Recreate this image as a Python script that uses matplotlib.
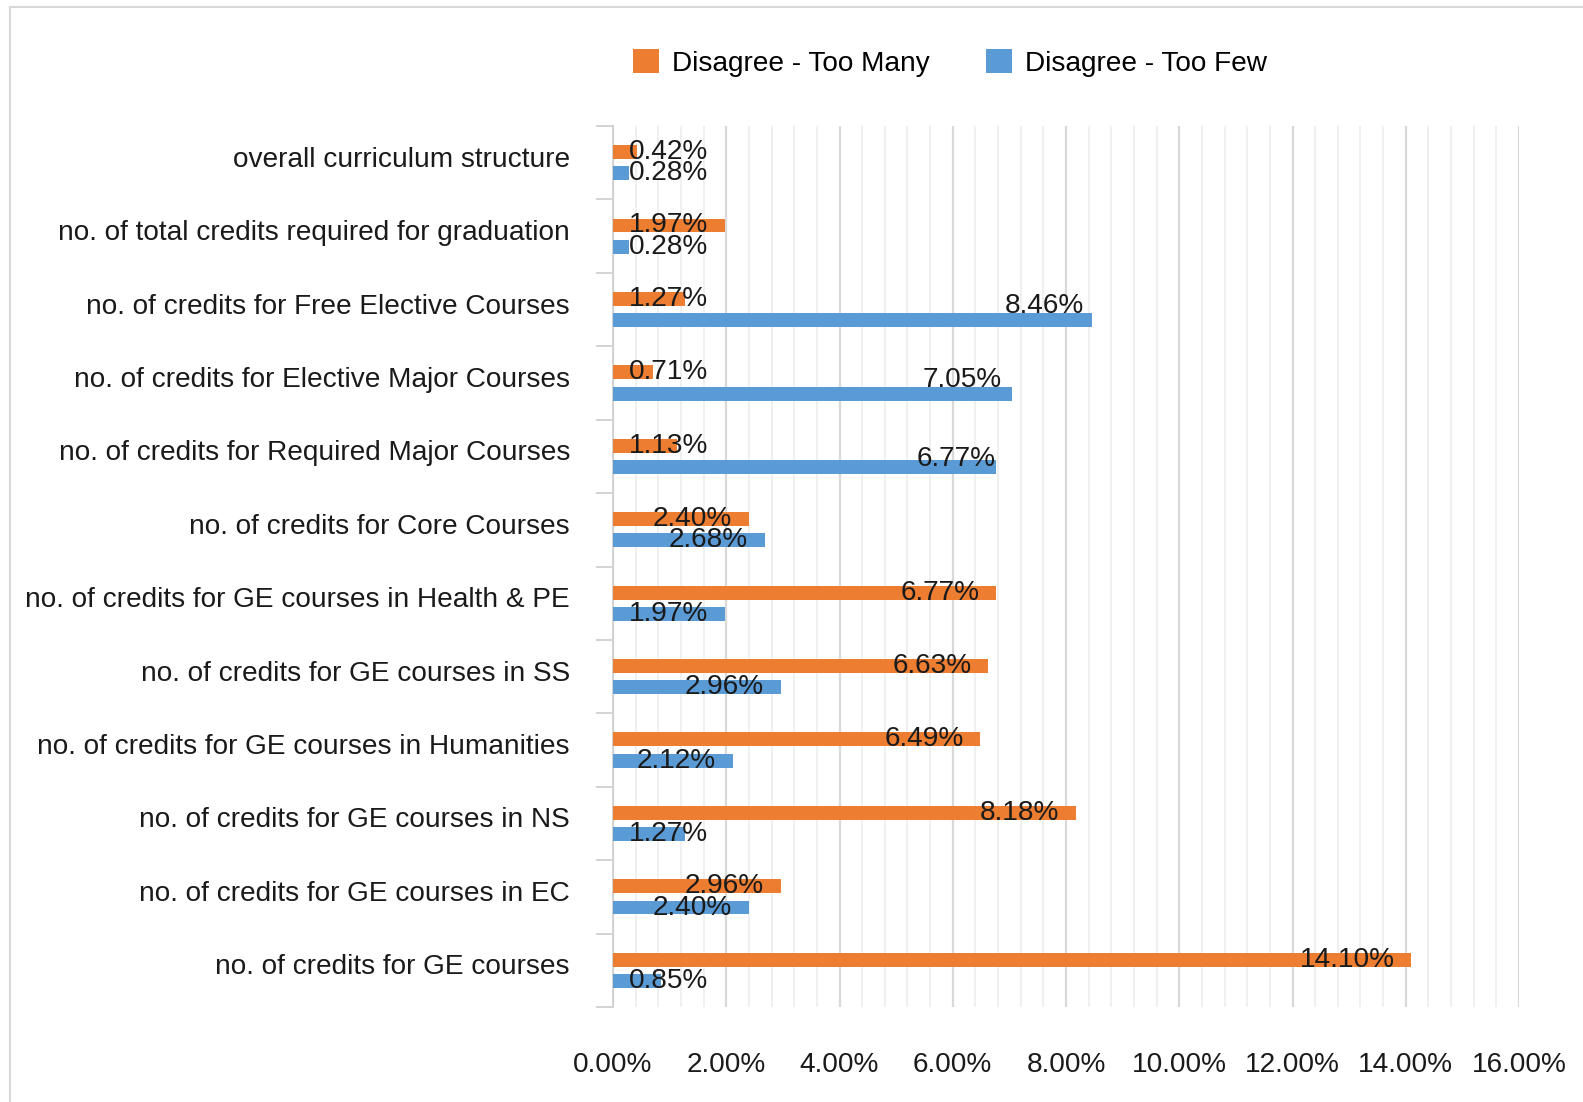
import matplotlib
matplotlib.use("Agg")
import matplotlib.pyplot as plt
from matplotlib.patches import Patch
from matplotlib.lines import Line2D
from matplotlib.ticker import MultipleLocator, FixedLocator, FuncFormatter
from matplotlib.transforms import ScaledTranslation
import numpy as np

plt.rcParams['font.family'] = ['Liberation Sans', 'DejaVu Sans']

categories = [
    "overall curriculum structure",
    "no. of total credits required for graduation",
    "no. of credits for Free Elective Courses",
    "no. of credits for Elective Major Courses",
    "no. of credits for Required Major Courses",
    "no. of credits for Core Courses",
    "no. of credits for GE courses in Health & PE",
    "no. of credits for GE courses in SS",
    "no. of credits for GE courses in Humanities",
    "no. of credits for GE courses in NS",
    "no. of credits for GE courses in EC",
    "no. of credits for GE courses",
]
too_many = [0.42, 1.97, 1.27, 0.71, 1.13, 2.40, 6.77, 6.63, 6.49, 8.18, 2.96, 14.10]
too_few = [0.28, 0.28, 8.46, 7.05, 6.77, 2.68, 1.97, 2.96, 2.12, 1.27, 2.40, 0.85]
series_names = ["Disagree - Too Many", "Disagree - Too Few"]
xticks = [0, 2, 4, 6, 8, 10, 12, 14, 16]

ORANGE = "#ED7D31"
BLUE = "#5B9BD5"
FS = 20.2

# manual nudges (pixels: dx, dy-up) for some "Too Few" data labels as in the original
few_label_nudge = {2: (9, 14), 3: (7, 14), 4: (16, 8)}

fig = plt.figure(figsize=(15.83, 11.02), dpi=100)
ax = fig.add_axes([613/1583, (1102-1007)/1102, (1519-613)/1583, (1007-126)/1102])

n = len(categories)
y = np.arange(n)
h = 0.19
off = 0.145
ax.barh(y - off, too_many, height=h, color=ORANGE, zorder=3)
ax.barh(y + off, too_few, height=h, color=BLUE, zorder=3)

ax.set_ylim(n - 0.5, -0.5)
ax.set_xlim(0, 16)

# data labels: right aligned inside bar end, clamped near axis
for si, (vals, yy) in enumerate(((too_many, y - off), (too_few, y + off))):
    for i, (v, yi) in enumerate(zip(vals, yy)):
        xr = max(v - 0.3, 1.68)
        t = ax.text(xr, yi, f"{v:.2f}%", ha='right', va='center', fontsize=FS,
                    color='#1a1a1a', zorder=4)
        if si == 1 and i in few_label_nudge:
            dx, dy = few_label_nudge[i]
            t.set_transform(ax.transData + ScaledTranslation(dx/100, dy/100, fig.dpi_scale_trans))

# gridlines
ax.xaxis.set_major_locator(FixedLocator(xticks))
ax.xaxis.set_minor_locator(MultipleLocator(0.4))
ax.xaxis.set_major_formatter(FuncFormatter(lambda v, p: f"{v:.2f}%"))
ax.grid(axis='x', which='major', color='#D9D9D9', linewidth=1.6, zorder=0)
ax.grid(axis='x', which='minor', color='#F0F0F0', linewidth=1.4, zorder=0)
ax.tick_params(axis='x', which='both', length=0, labelsize=FS, pad=32.5, colors='#1a1a1a')

# y axis: boundary ticks (major) and labels (minor)
ax.yaxis.set_major_locator(FixedLocator(np.arange(-0.5, n, 1.0)))
ax.yaxis.set_major_formatter(FuncFormatter(lambda v, p: ""))
ax.set_yticks(y, categories, minor=True)
ax.tick_params(axis='y', which='major', length=12, width=1.3, color='#D0D0D0')
ax.tick_params(axis='y', which='minor', length=0, pad=31, labelsize=FS, labelcolor='#1a1a1a')
for lab in ax.get_yticklabels(minor=True):
    lab.set_transform(lab.get_transform() + ScaledTranslation(0, 6/100, fig.dpi_scale_trans))

for s in ('top', 'right', 'bottom'):
    ax.spines[s].set_visible(False)
ax.spines['left'].set_color('#D0D0D0')
ax.spines['left'].set_linewidth(1.3)

handles = [Patch(facecolor=ORANGE, edgecolor='none'), Patch(facecolor=BLUE, edgecolor='none')]
fig.legend(handles, series_names, loc='center', bbox_to_anchor=(950/1583, 1 - 63/1102),
           ncol=2, frameon=False, fontsize=FS, handlelength=0.93, handleheight=0.93,
           handletextpad=0.46, columnspacing=2.0)

# outer border (top and left)
fig.add_artist(Line2D([9.5/1583, 1], [1 - 6.5/1102, 1 - 6.5/1102], transform=fig.transFigure,
                      color='#D9D9D9', linewidth=1.5))
fig.add_artist(Line2D([9.5/1583, 9.5/1583], [0, 1 - 6.5/1102], transform=fig.transFigure,
                      color='#D9D9D9', linewidth=1.5))

fig.savefig("out.png", dpi=100, facecolor='white')
